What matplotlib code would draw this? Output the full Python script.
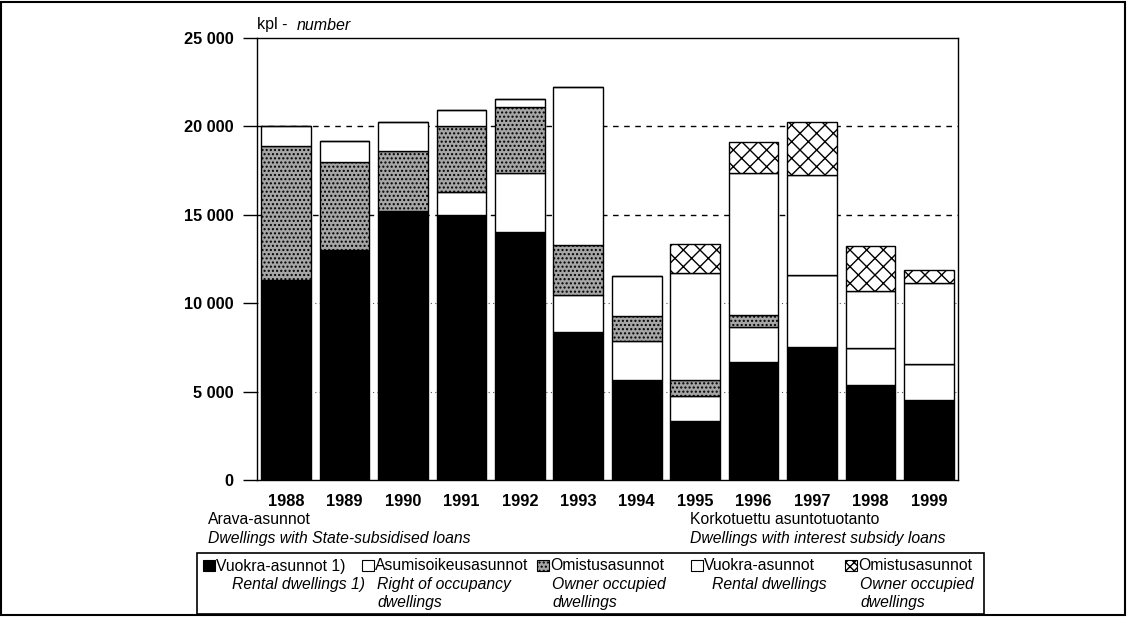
import matplotlib
matplotlib.use("Agg")
import matplotlib.pyplot as plt
from matplotlib.patches import Rectangle
import numpy as np

plt.rcParams['font.family'] = ['Liberation Sans', 'DejaVu Sans']
plt.rcParams['hatch.linewidth'] = 1.0

years = ['1988', '1989', '1990', '1991', '1992', '1993', '1994', '1995', '1996', '1997', '1998', '1999']
arava_rental = [11300, 13000, 15200, 15000, 14000, 8350, 5650, 3350, 6650, 7550, 5350, 4550]
arava_right_of_occupancy = [0, 0, 0, 1300, 3350, 2100, 2200, 1400, 2000, 4050, 2100, 2000]
arava_owner = [7600, 5000, 3400, 3750, 3750, 2850, 1450, 900, 700, 0, 0, 0]
interest_rental = [1100, 1150, 1650, 900, 450, 8950, 2250, 6050, 8000, 5650, 3250, 4600]
interest_owner = [0, 0, 0, 0, 0, 0, 0, 1650, 1750, 3000, 2550, 750]

yticks = [0, 5000, 10000, 15000, 20000, 25000]
ytick_labels = ['0', '5 000', '10 000', '15 000', '20 000', '25 000']

W, H = 1127, 617
fig = plt.figure(figsize=(W / 100, H / 100), dpi=100)
ax = fig.add_axes([257 / W, 1 - 480 / H, (958 - 257) / W, (480 - 38) / H])

x = np.arange(len(years))
bw = 0.85
series = [
    (arava_rental, dict(color='black', edgecolor='black')),
    (arava_right_of_occupancy, dict(color='white', edgecolor='black')),
    (arava_owner, dict(color='#a6a6a6', edgecolor='black', hatch='....')),
    (interest_rental, dict(color='white', edgecolor='black')),
    (interest_owner, dict(color='white', edgecolor='black', hatch='xx')),
]
bottom = np.zeros(len(years))
for vals, st in series:
    v = np.array(vals, dtype=float)
    ax.bar(x, v, bw, bottom=bottom, linewidth=1.0, zorder=3, **st)
    bottom += v

# gridlines
for yv in [15000, 20000]:
    ax.axhline(yv, color='black', lw=1.0, ls=(0, (4, 4)), zorder=1)
for yv in [5000, 10000]:
    ax.axhline(yv, color='#555555', lw=0.8, ls=(0, (1, 3)), zorder=1)

ax.set_xlim(-0.5, 11.5)
ax.set_ylim(0, 25000)
ax.set_yticks(yticks)
ax.set_yticklabels(ytick_labels, fontsize=11.8, fontweight='bold')
ax.set_xticks(x)
ax.set_xticklabels(years, fontsize=11.8, fontweight='bold')
ax.tick_params(axis='y', length=10, width=1, direction='out', pad=7)
ax.tick_params(axis='x', length=0, pad=10)
for s in ax.spines.values():
    s.set_linewidth(1.0)

FS = 11.3
fig.text(257 / W, 1 - 25 / H, 'kpl -', fontsize=11.5, va='center', ha='left')
fig.text(297 / W, 1 - 25 / H, 'number', fontsize=11.5, style='italic', va='center', ha='left')

fig.text(208 / W, 1 - 519 / H, 'Arava-asunnot', fontsize=FS, va='center')
fig.text(208 / W, 1 - 539 / H, 'Dwellings with State-subsidised loans', fontsize=FS, style='italic', va='center')
fig.text(690 / W, 1 - 519 / H, 'Korkotuettu asuntotuotanto', fontsize=FS, va='center')
fig.text(690 / W, 1 - 539 / H, 'Dwellings with interest subsidy loans', fontsize=FS, style='italic', va='center')

# outer frame
fig.patches.append(Rectangle((1 / W, 2 / H), 1124 / W, 613 / H, transform=fig.transFigure,
                             fill=False, edgecolor='black', lw=1.5))
# legend box
fig.patches.append(Rectangle((197 / W, 1 - 614 / H), (984 - 197) / W, (614 - 553) / H,
                             transform=fig.transFigure, fill=False, edgecolor='black', lw=1.2))

legend_items = [
    (203, 'Vuokra-asunnot 1)', ['Rental dwellings 1)'], 232, series[0][1]),
    (362, 'Asumisoikeusasunnot', ['Right of occupancy', 'dwellings'], 377, series[1][1]),
    (537, 'Omistusasunnot', ['Owner occupied', 'dwellings'], 552, series[2][1]),
    (691, 'Vuokra-asunnot', ['Rental dwellings'], 712, series[3][1]),
    (845, 'Omistusasunnot', ['Owner occupied', 'dwellings'], 860, dict(color='white', edgecolor='black', hatch='xxxx')),
]
for px, title, lines, lx, st in legend_items:
    fc = st.get('color', 'white')
    fig.patches.append(Rectangle((px / W, 1 - 571 / H), 12 / W, 11 / H, transform=fig.transFigure,
                                 facecolor=fc, edgecolor='black', lw=0.8, hatch=st.get('hatch')))
    fig.text((px + 13) / W, 1 - 566 / H, title, fontsize=FS, va='center', ha='left')
    for i, ln in enumerate(lines):
        fig.text(lx / W, 1 - (584.5 + 18.5 * i) / H, ln, fontsize=FS, style='italic', va='center', ha='left')

fig.savefig('out.png', dpi=100)
